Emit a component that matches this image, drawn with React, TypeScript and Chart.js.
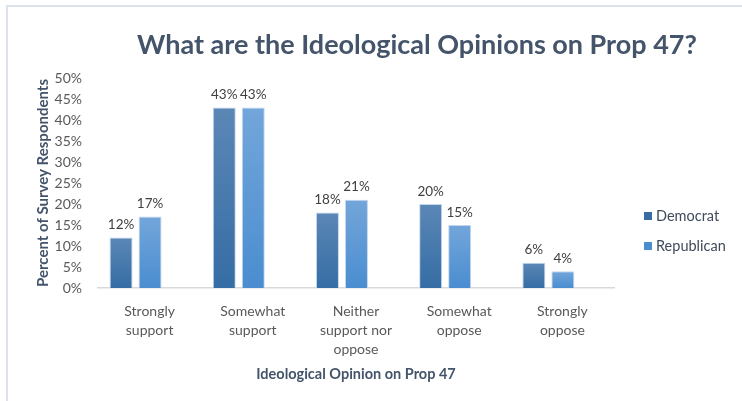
import React, { useEffect, useRef } from "react";
import { Chart, registerables } from "chart.js";

Chart.register(...registerables);

const categories: string[][] = [
  ["Strongly", "support"],
  ["Somewhat", "support"],
  ["Neither", "support nor", "oppose"],
  ["Somewhat", "oppose"],
  ["Strongly", "oppose"],
];
const seriesNames = ["Democrat", "Republican"];
const democrat = [12, 43, 18, 20, 6];
const republican = [17, 43, 21, 15, 4];
const yTicks = { min: 0, max: 50, step: 5 };
const titleText = "What are the Ideological Opinions on Prop 47?";
const yTitle = "Percent of Survey Respondents";
const xTitle = "Ideological Opinion on Prop 47";

const FONT = "Lato, 'Open Sans', sans-serif";
const gradStops = [
  ["#5b87b6", "#356da4"],
  ["#73a6da", "#4a8dd0"],
];
// bars sit slightly left of the category centres in the original (fraction of a category)
const BAR_SHIFT = 0.136;

function barGradient(idx: number) {
  return (ctx: any) => {
    const chart = ctx.chart;
    const y = chart.scales && chart.scales.y;
    const v = ctx.raw && typeof ctx.raw === "object" ? ctx.raw.y : ctx.raw;
    if (!y || v == null) return gradStops[idx][1];
    const top = y.getPixelForValue(v);
    const bot = y.getPixelForValue(0);
    if (!isFinite(top) || !isFinite(bot) || top === bot) return gradStops[idx][1];
    const g = chart.ctx.createLinearGradient(0, top, 0, bot);
    g.addColorStop(0, gradStops[idx][0]);
    g.addColorStop(1, gradStops[idx][1]);
    return g;
  };
}

const decorPlugin = {
  id: "decor",
  beforeDraw(chart: any) {
    const c = chart.ctx;
    c.save();
    c.fillStyle = "#ffffff";
    c.fillRect(0, 0, chart.width, chart.height);
    c.strokeStyle = "#dce1eb";
    c.lineWidth = 2;
    c.beginPath();
    c.moveTo(7, chart.height);
    c.lineTo(7, 6);
    c.lineTo(chart.width, 6);
    c.stroke();
    c.restore();
  },
  afterDraw(chart: any) {
    const c = chart.ctx;
    c.save();
    // title
    c.font = `bold 27px ${FONT}`;
    c.fillStyle = "#44546a";
    c.textAlign = "center";
    c.textBaseline = "middle";
    c.fillText(titleText, 417, 45);
    // data labels
    c.font = `13.5px ${FONT}`;
    c.fillStyle = "#404040";
    c.textBaseline = "bottom";
    chart.data.datasets.forEach((ds: any, di: number) => {
      const meta = chart.getDatasetMeta(di);
      meta.data.forEach((bar: any, i: number) => {
        c.fillText(`${ds.data[i].y}%`, bar.x, bar.y - 6);
      });
    });
    // legend
    c.textAlign = "left";
    c.textBaseline = "middle";
    c.font = `14.5px ${FONT}`;
    const ys = [216, 246];
    chart.data.datasets.forEach((ds: any, di: number) => {
      c.fillStyle = gradStops[di][1];
      c.fillRect(644, ys[di] - 4, 8, 8);
      c.fillStyle = "#3f4b5b";
      c.fillText(ds.label, 656, ys[di]);
    });
    c.restore();
  },
};

export default function App() {
  const ref = useRef<HTMLCanvasElement>(null);
  useEffect(() => {
    if (!ref.current) return;
    const common = {
      xAxisID: "xb",
      yAxisID: "y",
      borderColor: "rgba(190,210,235,0.9)",
      borderWidth: 1,
      categoryPercentage: 0.562,
      barPercentage: 0.793,
    };
    const chart = new Chart(ref.current, {
      type: "bar",
      data: {
        labels: categories,
        datasets: [
          {
            ...common,
            label: seriesNames[0],
            data: democrat.map((v, i) => ({ x: i, y: v })),
            backgroundColor: barGradient(0),
          },
          {
            ...common,
            label: seriesNames[1],
            data: republican.map((v, i) => ({ x: i, y: v })),
            backgroundColor: barGradient(1),
          },
        ],
      },
      options: {
        responsive: false,
        animation: false,
        devicePixelRatio: 1,
        layout: { padding: { left: 30, right: 128, top: 78, bottom: 14 } },
        plugins: {
          legend: { display: false },
          title: { display: false },
          tooltip: { enabled: false },
        },
        scales: {
          x: {
            type: "category",
            offset: true,
            position: "bottom",
            grid: { display: false, drawTicks: false },
            border: { display: true, color: "#d9d9d9", width: 1.5 },
            ticks: {
              color: "#595959",
              font: { family: FONT, size: 14, lineHeight: 1.35 },
              padding: 14,
              maxRotation: 0,
              autoSkip: false,
            },
            title: {
              display: true,
              text: xTitle,
              color: "#44546a",
              font: { family: FONT, size: 14.5, weight: "bold" },
              padding: { top: 4, bottom: 4 },
            },
            afterFit: (s: any) => {
              s.height = 99;
            },
          },
          xb: {
            type: "linear",
            axis: "x",
            position: "bottom",
            display: false,
            offset: false,
            bounds: "data",
            grace: 0,
            min: -0.5 + BAR_SHIFT,
            max: categories.length - 0.5 + BAR_SHIFT,
            grid: { display: false, offset: false },
            ticks: { stepSize: 1, includeBounds: false },
          },
          y: {
            min: yTicks.min,
            max: yTicks.max,
            grid: { display: false, drawTicks: false },
            border: { display: false },
            ticks: {
              stepSize: yTicks.step,
              color: "#595959",
              font: { family: FONT, size: 14 },
              padding: 16,
              callback: (v: any) => `${v}%`,
            },
            title: {
              display: true,
              text: yTitle,
              color: "#44546a",
              font: { family: FONT, size: 15, weight: "bold" },
              padding: { top: 4, bottom: 4 },
            },
            afterFit: (s: any) => {
              s.width = 68;
            },
          },
        },
      },
      plugins: [decorPlugin],
    });
    return () => chart.destroy();
  }, []);
  return (
    <div style={{ position: "fixed", left: 0, top: 0, width: 742, height: 401, background: "#fff" }}>
      <canvas ref={ref} width={742} height={401} style={{ width: 742, height: 401, display: "block" }} />
    </div>
  );
}
